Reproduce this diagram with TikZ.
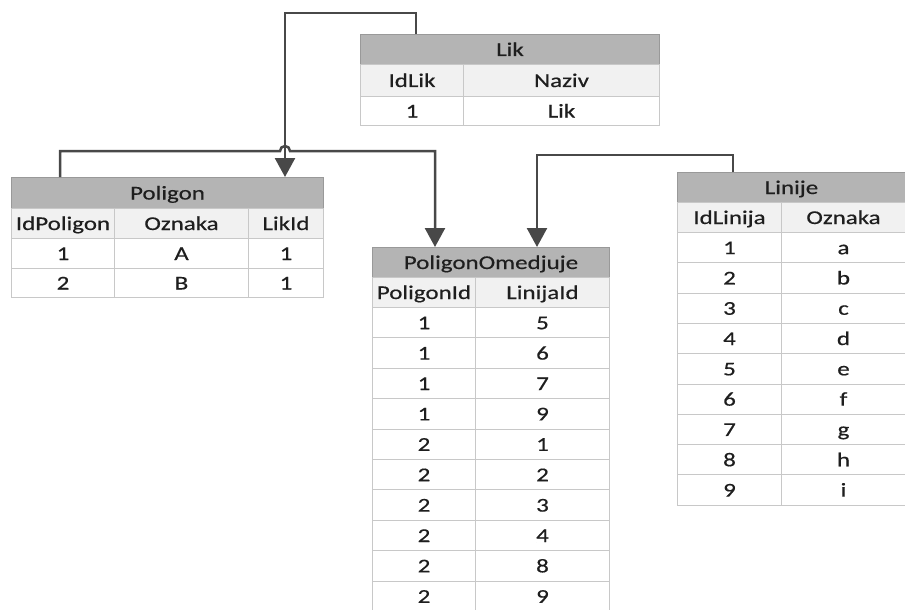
\documentclass[tikz,border=0pt]{standalone}
\usepackage{fontspec}
\setmainfont{Carlito}[FakeStretch=1.28,FakeBold=0.5]
\usetikzlibrary{arrows.meta,calc}
\definecolor{titlegray}{RGB}{180,180,180}
\definecolor{headgray}{RGB}{241,241,241}
\definecolor{gridgray}{RGB}{200,200,200}
\definecolor{txtc}{RGB}{30,30,30}
\definecolor{connc}{RGB}{72,72,72}
\newcommand{\tcel}[7]{\node[#6, minimum width=#4pt, minimum height=#5pt, anchor=north west] (#1) at (#2,#3) {#7};}
\tikzset{
  cellbase/.style={draw=gridgray, line width=1pt, inner sep=0pt, text=txtc,
    font=\fontsize{19.5}{22}\selectfont, text height=13pt, text depth=0pt},
  tcell/.style={cellbase, fill=titlegray, draw=titlegray!85!black},
  hcell/.style={cellbase, fill=headgray},
  dcell/.style={cellbase, fill=white},
  conn/.style={draw=connc, line width=2.5pt, -{Triangle[length=19pt,width=20pt]}, color=connc},
}
\begin{document}
\begin{tikzpicture}[x=1pt,y=-1pt]
\useasboundingbox (0,0) rectangle (905,610);
\clip (0,0) rectangle (905,610);
\fill[white] (0,0) rectangle (905,610);
% Lik
\tcel{likT}{360}{34}{299}{30}{tcell}{Lik}
\tcel{likH1}{360}{64}{103}{32}{hcell}{IdLik}
\tcel{likH2}{463}{64}{196}{32}{hcell}{Naziv}
\tcel{likR1a}{360}{96}{103}{29}{dcell}{1}
\tcel{likR1b}{463}{96}{196}{29}{dcell}{Lik}
% Poligon
\tcel{polT}{11}{177}{312}{31}{tcell}{Poligon}
\tcel{polH1}{11}{208}{103}{30}{hcell}{IdPoligon}
\tcel{polH2}{114}{208}{134}{30}{hcell}{Oznaka}
\tcel{polH3}{248}{208}{75}{30}{hcell}{LikId}
\tcel{polR1a}{11}{238}{103}{30}{dcell}{1}
\tcel{polR1b}{114}{238}{134}{30}{dcell}{A}
\tcel{polR1c}{248}{238}{75}{30}{dcell}{1}
\tcel{polR2a}{11}{268}{103}{29}{dcell}{2}
\tcel{polR2b}{114}{268}{134}{29}{dcell}{B}
\tcel{polR2c}{248}{268}{75}{29}{dcell}{1}
% PoligonOmedjuje
\tcel{pomT}{372}{247}{237}{30}{tcell}{PoligonOmedjuje}
\tcel{pomH1}{372}{277}{103}{30}{hcell}{PoligonId}
\tcel{pomH2}{475}{277}{134}{30}{hcell}{LinijaId}
\foreach \a/\b [count=\i from 0] in {1/5,1/6,1/7,1/9,2/1,2/2,2/3,2/4,2/8,2/9}{
  \pgfmathsetmacro\yy{307+\i*30.4}
  \tcel{pomA\i}{372}{\yy}{103}{30.4}{dcell}{\a}
  \tcel{pomB\i}{475}{\yy}{134}{30.4}{dcell}{\b}
}
% Linije
\tcel{linT}{677}{172}{228}{30}{tcell}{Linije}
\tcel{linH1}{677}{202}{104}{30}{hcell}{IdLinija}
\tcel{linH2}{781}{202}{124}{30}{hcell}{Oznaka}
\foreach \a/\b [count=\i from 0] in {1/a,2/b,3/c,4/d,5/e,6/f,7/g,8/h,9/i}{
  \pgfmathsetmacro\yy{232+\i*30.3}
  \tcel{linA\i}{677}{\yy}{104}{30.3}{dcell}{\a}
  \tcel{linB\i}{781}{\yy}{124}{30.3}{dcell}{\b}
}
% connectors
\draw[conn] ($(likT.north west)+(56,0)$) -- ++(0,-21) -| ($(polT.north west)+(274,0)$);
\draw[conn] ($(polT.north west)+(49,0)$) -- ++(0,-26) -- ++(220,0)
  arc[start angle=180, end angle=360, radius=5] -| ($(pomT.north west)+(63,0)$);
\draw[conn] ($(linT.north west)+(56,0)$) -- ++(0,-17) -| ($(pomT.north west)+(165,0)$);
\end{tikzpicture}
\end{document}
